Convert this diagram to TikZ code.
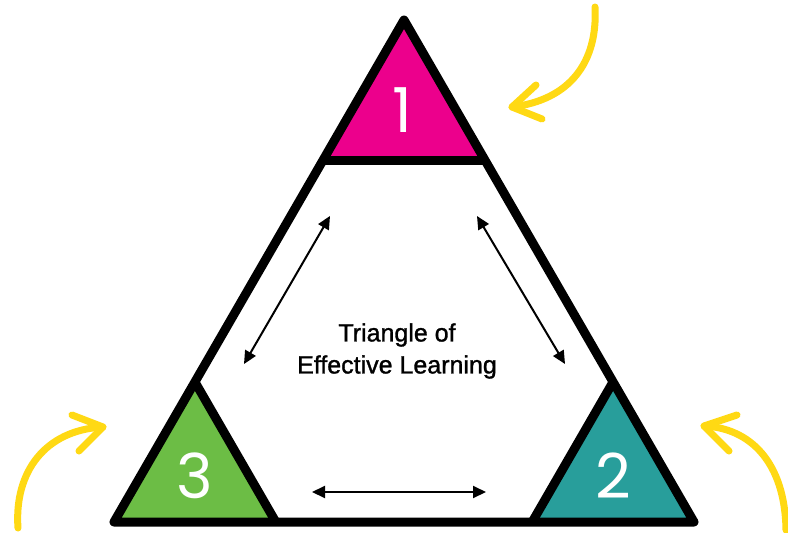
\documentclass[tikz,border=0pt]{standalone}
\usepackage{fontspec}
\setmainfont{Liberation Sans}
\newfontfamily\lblfont[FakeBold=1.2]{Liberation Sans}
\newfontfamily\numfont{Poppins}
\usetikzlibrary{arrows.meta,calc}
\definecolor{magentaT}{HTML}{EC008C}
\definecolor{greenT}{HTML}{6CBD45}
\definecolor{tealT}{HTML}{289E9B}
\definecolor{yellowA}{HTML}{FFD914}
\begin{document}
\begin{tikzpicture}[x=1pt,y=-1pt,
  outline/.style={line width=9pt, line join=round, line cap=round},
  innerline/.style={line width=9pt},
  numtext/.style={text=white, inner sep=0pt, font=\numfont\fontsize{62}{62}\selectfont},
  dblarrow/.style={line width=2pt, {Triangle[length=13pt,width=12pt]}-{Triangle[length=13pt,width=12pt]}},
  curly/.style={yellowA, line width=7pt, line cap=round, line join=round}]
\useasboundingbox (0,0) rectangle (788,533);
\fill[white] (0,0) rectangle (788,533);
\coordinate (A) at (404,20);
\coordinate (L) at (114,522);
\coordinate (R) at (694,522);
\coordinate (T1) at ($(A)!0.279!(L)$);
\coordinate (T2) at ($(A)!0.279!(R)$);
\coordinate (G1) at ($(L)!0.279!(A)$);
\coordinate (G2) at ($(L)!0.279!(R)$);
\coordinate (B1) at ($(R)!0.279!(A)$);
\coordinate (B2) at ($(R)!0.279!(L)$);
% corner fills
\fill[magentaT] (A) -- (T1) -- (T2) -- cycle;
\fill[greenT] (L) -- (G1) -- (G2) -- cycle;
\fill[tealT] (R) -- (B1) -- (B2) -- cycle;
% outlines
\draw[outline] (A) -- (L) -- (R) -- cycle;
\draw[innerline] (T1) -- (T2);
\draw[innerline] (G1) -- (G2);
\draw[innerline] (B1) -- (B2);
% numbers
\node[numtext] (n1) at (402,110) {1};
\node[numtext] (n3) at (195,476) {3};
\node[numtext] (n2) at (613,476) {2};
% centre label
\node[align=center, font=\lblfont\fontsize{25}{32}\selectfont] (lbl) at (397,351) {Triangle of\\Effective Learning};
% inner double arrows
\coordinate (p1) at (330,216);
\coordinate (p2) at (244,364);
\coordinate (q1) at (477,216);
\coordinate (q2) at (565,364);
\coordinate (r1) at (312,492);
\coordinate (r2) at (486,492);
\draw[dblarrow] (p1) -- (p2);
\draw[dblarrow] (q1) -- (q2);
\draw[dblarrow] (r1) -- (r2);
% yellow curly arrows
\coordinate (y1s) at (595,7);
\coordinate (y1t) at (512,107);
\draw[curly] (y1s) .. controls (598,62) and (570,100) .. (y1t);
\draw[curly] (536,85) -- (y1t) -- (542,119);
\coordinate (y2s) at (18,528);
\coordinate (y2t) at (103,427);
\draw[curly] (y2s) .. controls (14,472) and (45,430) .. (y2t);
\draw[curly] (72,415) -- (y2t) -- (79,451);
\coordinate (y3s) at (786,530);
\coordinate (y3t) at (704,426);
\draw[curly] (y3s) .. controls (785,462) and (750,428) .. (y3t);
\draw[curly] (737,415) -- (y3t) -- (729,451);
\end{tikzpicture}
\end{document}
